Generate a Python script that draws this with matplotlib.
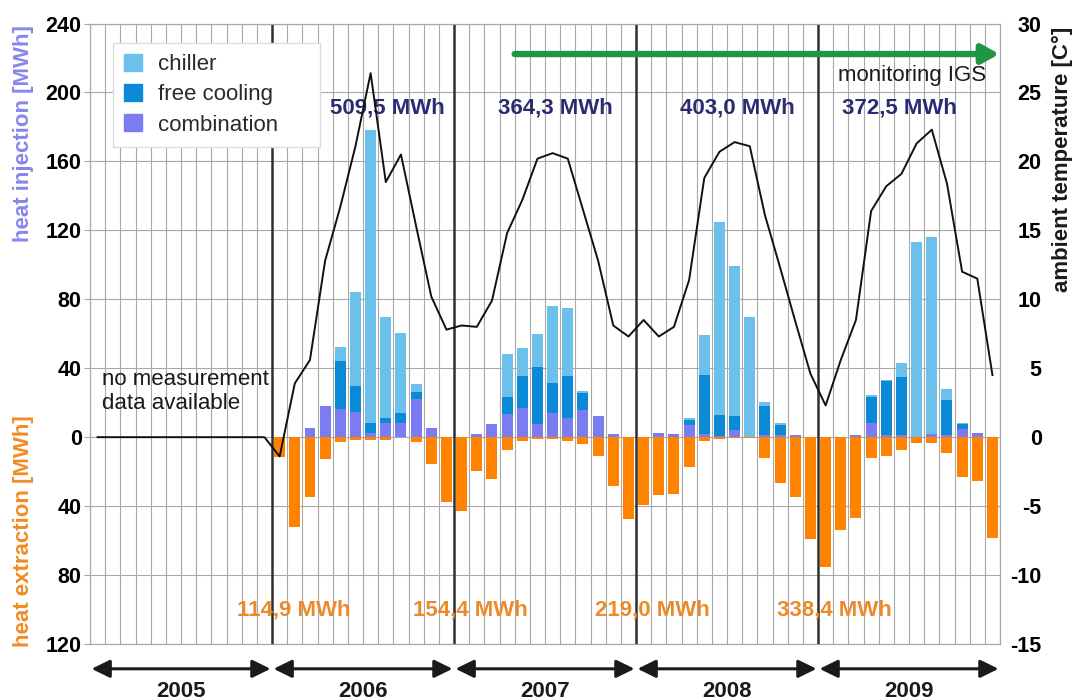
"""Monthly heat injection / extraction of the borehole field with ambient temperature."""

import matplotlib

matplotlib.use("Agg")
import matplotlib.pyplot as plt
import numpy as np
from matplotlib.patches import Patch

plt.rcParams["font.family"] = ["Liberation Sans", "DejaVu Sans"]

CHILLER = "#6cc0ec"
FREE = "#0a8ad6"
COMB = "#7c7cf2"
ORANGE = "#ff8200"
GRID = "#a8a8a8"

years = ["2005", "2006", "2007", "2008", "2009"]

# heat injection per month [MWh], Jan 2005 .. Dec 2009, stacked comb / free / chiller
combination = [
    0, 0, 0, 0, 0, 0, 0, 0, 0, 0, 0, 0,
    0, 0, 5.4, 18.2, 16.3, 14.4, 2.7, 8.0, 8.5, 22.0, 5.4, 0,
    0, 1.7, 7.6, 13.4, 17.0, 7.6, 13.8, 11.2, 15.7, 12.4, 1.7, 0,
    0, 2.5, 2.0, 7.0, 2.0, 0.5, 4.0, 0, 1.2, 1.5, 1.2, 0,
    0, 0, 1.5, 8.5, 1.5, 1.5, 0, 2.0, 1.0, 4.7, 2.5, 0,
]
free_cooling = [
    0, 0, 0, 0, 0, 0, 0, 0, 0, 0, 0, 0,
    0, 0, 0, 0, 28.1, 15.3, 5.6, 2.9, 5.3, 4.4, 0, 0,
    0, 0, 0, 10.0, 18.6, 33.3, 17.8, 24.3, 10.1, 0, 0, 0,
    0, 0, 0, 2.9, 33.9, 12.3, 8.2, 0, 17.0, 5.5, 0, 0,
    0, 0, 0, 14.9, 31.1, 33.2, 0, 0, 20.5, 2.9, 0, 0,
]
chiller = [
    0, 0, 0, 0, 0, 0, 0, 0, 0, 0, 0, 0,
    0, 0, 0, 0, 8.1, 54.8, 169.7, 59.1, 46.9, 4.2, 0, 0,
    0, 0, 0, 24.9, 16.0, 19.0, 44.7, 39.3, 0.8, 0, 0, 0,
    0, 0, 0, 1.3, 23.4, 112.0, 87.2, 70.0, 2.0, 1.0, 0, 0,
    0, 0, 0, 0.8, 0.4, 8.5, 113.0, 114.0, 6.4, 0.5, 0, 0,
]
# heat extraction per month [MWh]
extraction = [
    0, 0, 0, 0, 0, 0, 0, 0, 0, 0, 0, 0,
    11.4, 52.2, 34.7, 12.8, 3.0, 1.7, 1.5, 1.5, 0, 2.7, 15.7, 37.8,
    43.0, 19.6, 24.4, 7.2, 2.0, 1.0, 1.0, 2.0, 4.2, 11.0, 28.5, 47.7,
    39.5, 33.7, 33.0, 17.3, 2.0, 1.0, 0.5, 0.5, 11.8, 26.3, 35.0, 59.3,
    75.4, 53.7, 46.9, 11.8, 10.9, 7.2, 3.3, 3.3, 9.1, 23.0, 25.6, 58.5,
]
# monthly mean ambient temperature [deg C], 2005 not measured
temperature = [
    0, 0, 0, 0, 0, 0, 0, 0, 0, 0, 0, 0,
    -1.4, 3.9, 5.6, 12.8, 16.7, 21.1, 26.4, 18.5, 20.5, 15.3, 10.2, 7.8,
    8.1, 8.0, 9.9, 14.8, 17.2, 20.2, 20.6, 20.2, 16.5, 12.8, 8.1, 7.3,
    8.5, 7.3, 8.0, 11.4, 18.8, 20.7, 21.4, 21.1, 16.1, 12.3, 8.4, 4.6,
    2.3, 5.6, 8.5, 16.4, 18.2, 19.1, 21.3, 22.3, 18.4, 12.0, 11.5, 4.5,
]

injection_totals = ["509,5 MWh", "364,3 MWh", "403,0 MWh", "372,5 MWh"]
extraction_totals = ["114,9 MWh", "154,4 MWh", "219,0 MWh", "338,4 MWh"]

combination = np.array(combination)
free_cooling = np.array(free_cooling)
chiller = np.array(chiller)
extraction = np.array(extraction)
x = np.arange(len(chiller)) + 0.5

fig = plt.figure(figsize=(10.81, 7.0), dpi=100)
ax = fig.add_axes([0.0833, 0.08, 0.8418, 0.8864])

ax.bar(x, combination, width=0.72, color=COMB, zorder=2)
ax.bar(x, free_cooling, width=0.72, bottom=combination, color=FREE, zorder=2)
ax.bar(x, chiller, width=0.72, bottom=combination + free_cooling, color=CHILLER, zorder=2)
ax.bar(x, -extraction, width=0.72, color=ORANGE, zorder=2)

ax.set_xlim(0, 60)
ax.set_ylim(-120, 240)
ax.set_xticks(np.arange(61))
ax.set_xticklabels([])
ax.tick_params(axis="x", length=0)
yt = np.arange(-120, 241, 40)
ax.set_yticks(yt, [str(abs(v)) for v in yt], fontweight="bold")
ax.tick_params(axis="y", labelsize=15.5, length=4, color=GRID, pad=2)
ax.grid(True, color=GRID, lw=0.8, zorder=0)
ax.set_axisbelow(True)
for s in ax.spines.values():
    s.set_color(GRID)
    s.set_linewidth(0.8)
for b in (12, 24, 36, 48):
    ax.axvline(b, color="#303030", lw=1.8, zorder=3)

for i, txt in enumerate(injection_totals):
    ax.text([19.6, 30.7, 42.7, 53.4][i], 191, txt, ha="center", va="center",
            fontsize=16, fontweight="bold", color="#2b2a72", zorder=4)
for i, txt in enumerate(extraction_totals):
    ax.text(13.4 + 12 * i - [0, 0.35, 0.3, 0.3][i], -100.4, txt, ha="center", va="center",
            fontsize=16, fontweight="bold", color="#ec8a2a", zorder=4)

ax.text(0.8, 26.5, "no measurement\ndata available", ha="left", va="center",
        fontsize=16, linespacing=1.15, color="#1a1a1a", zorder=4)
ax.text(59.1, 210, "monitoring IGS", ha="right", va="center",
        fontsize=16, color="#1a1a1a", zorder=4)
ax.annotate("", xy=(59.95, 222.3), xytext=(28.0, 222.3),
            arrowprops=dict(arrowstyle="-|>,head_length=0.5,head_width=0.28",
                            mutation_scale=20, lw=4.6, color="#1e9646",
                            shrinkA=0, shrinkB=0), annotation_clip=False, zorder=4)

handles = [Patch(color=CHILLER, label="chiller"),
           Patch(color=FREE, label="free cooling"),
           Patch(color=COMB, label="combination")]
leg = ax.legend(handles=handles, loc="upper left", bbox_to_anchor=(0.0253, 0.8686, 0.2275, 0.1),
                mode="expand", borderaxespad=0, fontsize=16, handlelength=0.8, handleheight=0.8,
                handletextpad=0.7, labelspacing=0.4, borderpad=0.5, fancybox=False,
                framealpha=1, edgecolor="#dcdcdc")
for t in leg.get_texts():
    t.set_color("#2a2a2a")
leg.set_zorder(5)

# year spans below the plot
for k, yr in enumerate(years):
    ax.annotate("", xy=(12 * k + 11.9, -0.04), xytext=(12 * k + 0.1, -0.04),
                xycoords=("data", "axes fraction"),
                arrowprops=dict(arrowstyle="<|-|>,head_length=0.55,head_width=0.27",
                                mutation_scale=20, lw=2.2, color="#1a1a1a",
                                shrinkA=0, shrinkB=0), annotation_clip=False)
    ax.text(12 * k + 6, -0.076, yr, transform=ax.get_xaxis_transform(),
            ha="center", va="center", fontsize=16, fontweight="bold", color="#1a1a1a")

ax2 = ax.twinx()
ax2.plot(x, temperature, color="#111111", lw=1.4, zorder=5)
ax2.set_ylim(-15, 30)
rt = np.arange(-15, 31, 5)
ax2.set_yticks(rt, [str(v) for v in rt], fontweight="bold", ha="right")
ax2.tick_params(axis="y", labelsize=15.5, length=0, pad=30)
for s in ax2.spines.values():
    s.set_color(GRID)
    s.set_linewidth(0.8)

fig.text(0.0213, 0.964, "heat injection [MWh]", rotation=90, ha="center", va="top",
         fontsize=16, fontweight="bold", color="#8686ee")
fig.text(0.0213, 0.407, "heat extraction [MWh]", rotation=90, ha="center", va="top",
         fontsize=16, fontweight="bold", color="#f08c22")
fig.text(0.9824, 0.962, "ambient temperature [C°]", rotation=90, ha="center", va="top",
         fontsize=16, fontweight="bold", color="#1a1a1a")

fig.savefig("out.png", dpi=100)
